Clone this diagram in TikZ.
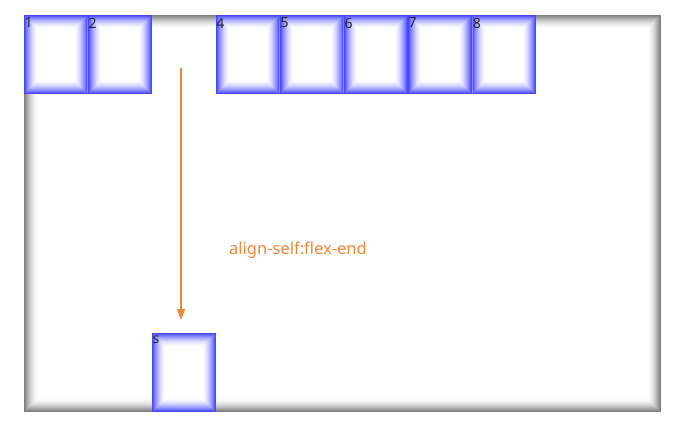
\documentclass[tikz,border=0pt]{standalone}
\usepackage{fontspec}
\setmainfont{Noto Sans}
\usetikzlibrary{positioning,arrows.meta}

\definecolor{glowblue}{RGB}{45,45,255}
\definecolor{flexorange}{RGB}{244,134,56}
\colorlet{shadowgray}{black!58}

\tikzset{
  innerglow/.style={path picture={
      \foreach \i [evaluate=\i as \c using 88*(1-\i/14)^1.8] in {0,...,13}
        \draw[#1!\c!white, line width=1.1pt]
          ([xshift={\i*1pt+0.5pt}, yshift={-\i*1pt-0.5pt}]path picture bounding box.north west)
          rectangle
          ([xshift={-\i*1pt-0.5pt}, yshift={\i*1pt+0.5pt}]path picture bounding box.south east);
  }},
  flexitem/.style={minimum width=63.7pt, minimum height=79pt, inner sep=0pt,
    innerglow=glowblue,
    label={[anchor=north west, inner xsep=0.5pt, inner ysep=3pt, text=black!85, font=\fontsize{14}{15}\selectfont]north west:#1}},
}

\begin{document}
\begin{tikzpicture}[x=1pt, y=-1pt, node distance=0pt]
  \useasboundingbox (0,0) rectangle (681,431);

  % container with inset shadow
  \node (flex) [minimum width=637pt, minimum height=397pt, inner sep=0pt, fill=white,
    innerglow=shadowgray] at (342.5,213.5) {};

  % items in the row
  \node (item1) [flexitem=1, anchor=north west] at (flex.north west) {};
  \node (item2) [flexitem=2, right=of item1] {};
  \node (item4) [flexitem=4, right=63.7pt of item2] {};
  \node (item5) [flexitem=5, right=of item4] {};
  \node (item6) [flexitem=6, right=of item5] {};
  \node (item7) [flexitem=7, right=of item6] {};
  \node (item8) [flexitem=8, right=of item7] {};

  % the item aligned to the end
  \node (items) [flexitem=s, anchor=south west] at (item2.east |- flex.south) {};

  % arrow and note
  \coordinate (arrow top) at (181,68);
  \coordinate (arrow end) at (181,320);
  \draw [flexorange, line width=1.6pt, -{Triangle[length=11pt, width=8pt]}] (arrow top) -- (arrow end);
  \node (note) [text=flexorange, font=\fontsize{16.5}{18}\selectfont, anchor=base west, inner sep=0pt] at (229,254) {align-self:flex-end};
\end{tikzpicture}
\end{document}
